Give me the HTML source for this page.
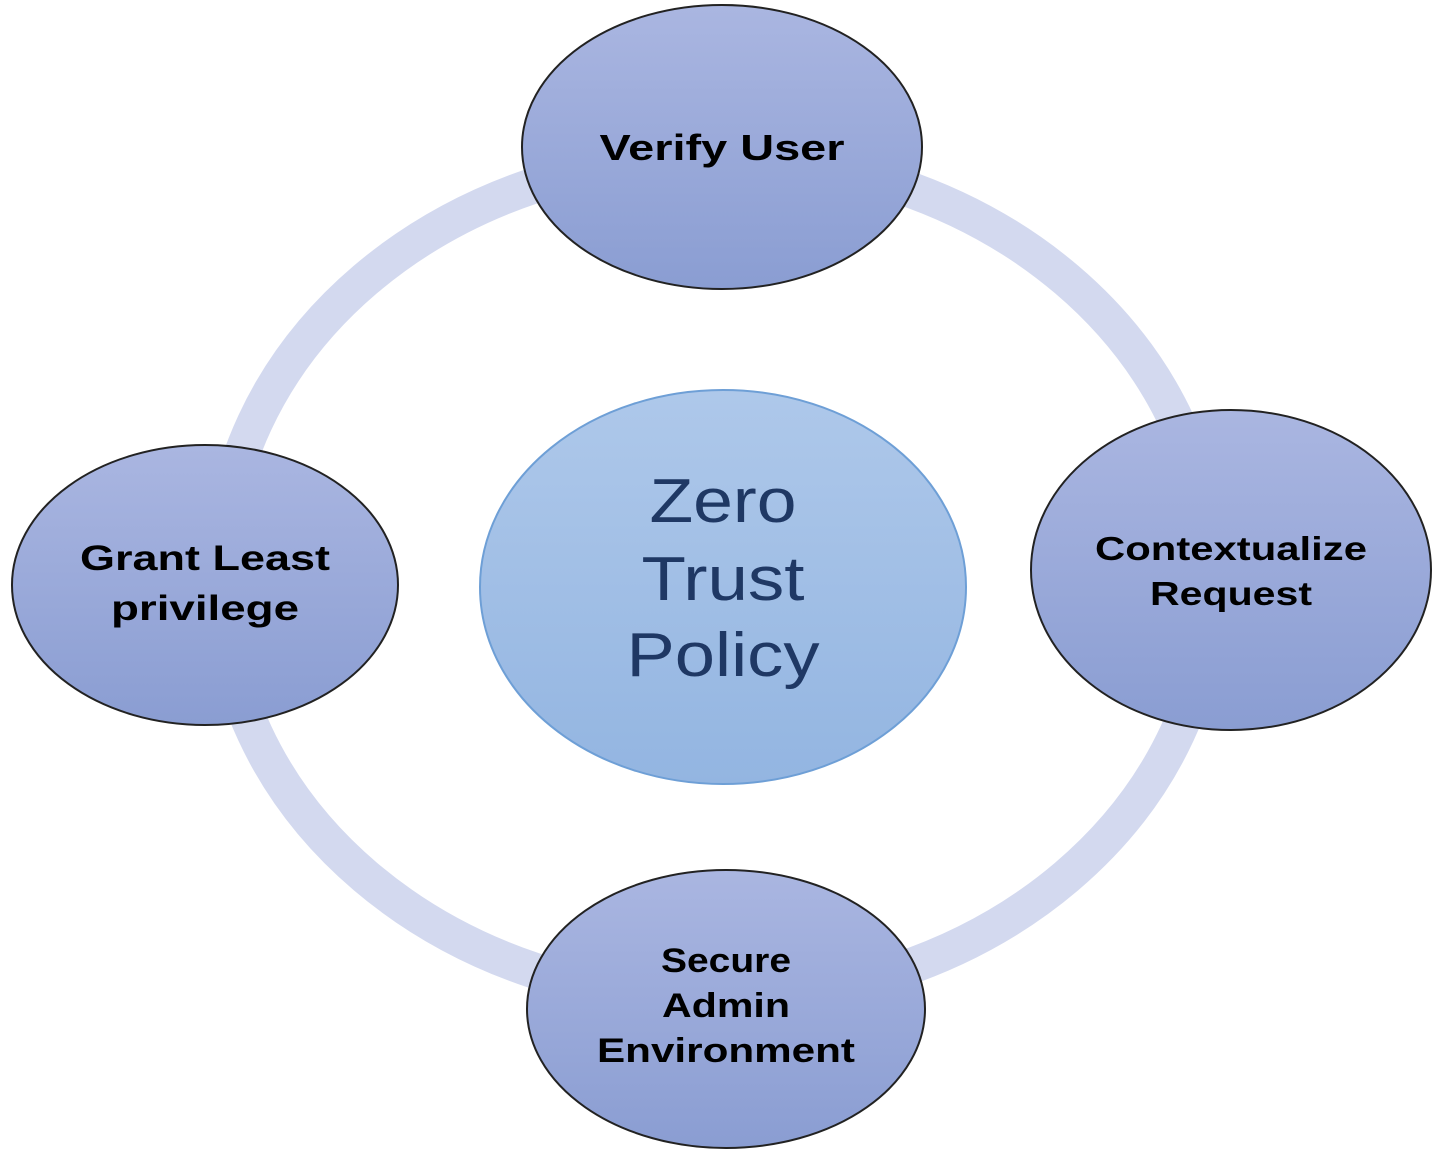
<!DOCTYPE html>
<html><head><meta charset="utf-8"><style>
html,body{margin:0;padding:0;background:#fff;}
svg{display:block;}
text{font-family:"Liberation Sans",sans-serif;text-anchor:middle;}
.n{font-weight:bold;fill:#000;}
.c{fill:#1f3864;font-size:62px;}
</style></head><body>
<svg width="1439" height="1151" viewBox="0 0 1439 1151">
<defs>
<linearGradient id="g" x1="0" y1="0" x2="0" y2="1">
<stop offset="0" stop-color="#aab6e1"/><stop offset="1" stop-color="#8a9dd2"/>
</linearGradient>
<linearGradient id="gc" x1="0" y1="0" x2="0" y2="1">
<stop offset="0" stop-color="#aec8ea"/><stop offset="1" stop-color="#93b5e1"/>
</linearGradient>
</defs>
<ellipse cx="716" cy="578" rx="496" ry="422" fill="none" stroke="#d3d9ef" stroke-width="36"/>
<ellipse cx="723" cy="587" rx="243" ry="197" fill="url(#gc)" stroke="#6e9fd6" stroke-width="2"/>
<text class="c" x="723" y="522" textLength="147" lengthAdjust="spacingAndGlyphs">Zero</text>
<text class="c" x="723" y="600" textLength="163" lengthAdjust="spacingAndGlyphs">Trust</text>
<text class="c" x="723" y="676" textLength="193" lengthAdjust="spacingAndGlyphs">Policy</text>
<ellipse cx="722" cy="147" rx="200" ry="142" fill="url(#g)" stroke="#222" stroke-width="2"/>
<text class="n" x="722" y="160" font-size="36" textLength="245" lengthAdjust="spacingAndGlyphs">Verify User</text>
<ellipse cx="205" cy="585" rx="193" ry="140" fill="url(#g)" stroke="#222" stroke-width="2"/>
<text class="n" x="205" y="570" font-size="35" textLength="250" lengthAdjust="spacingAndGlyphs">Grant Least</text>
<text class="n" x="205" y="620" font-size="35" textLength="188" lengthAdjust="spacingAndGlyphs">privilege</text>
<ellipse cx="1231" cy="570" rx="200" ry="160" fill="url(#g)" stroke="#222" stroke-width="2"/>
<text class="n" x="1231" y="560" font-size="33" textLength="272" lengthAdjust="spacingAndGlyphs">Contextualize</text>
<text class="n" x="1231" y="605" font-size="33" textLength="162" lengthAdjust="spacingAndGlyphs">Request</text>
<ellipse cx="726" cy="1009" rx="199" ry="139" fill="url(#g)" stroke="#222" stroke-width="2"/>
<text class="n" x="726" y="972" font-size="34" textLength="130" lengthAdjust="spacingAndGlyphs">Secure</text>
<text class="n" x="726" y="1017" font-size="34" textLength="128" lengthAdjust="spacingAndGlyphs">Admin</text>
<text class="n" x="726" y="1062" font-size="34" textLength="258" lengthAdjust="spacingAndGlyphs">Environment</text>
</svg>
</body></html>
